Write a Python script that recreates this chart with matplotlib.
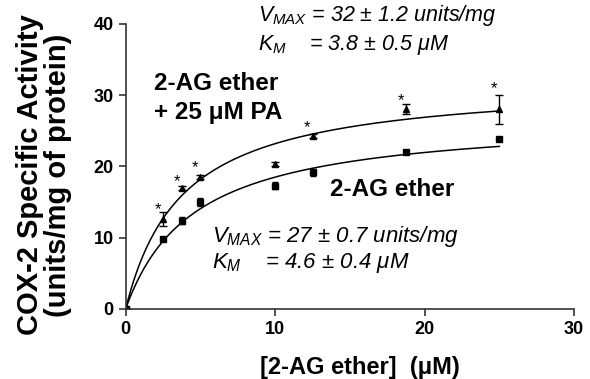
import matplotlib
matplotlib.use("Agg")
import matplotlib.pyplot as plt
import numpy as np

plt.rcParams['font.family'] = ['Liberation Sans', 'DejaVu Sans']
plt.rcParams['mathtext.fontset'] = 'custom'
plt.rcParams['mathtext.it'] = 'Liberation Sans:italic'
plt.rcParams['mathtext.rm'] = 'Liberation Sans:italic'

conc = [0, 2.5, 3.75, 5, 10, 12.5, 18.75, 25]
pa_vals = [0, 12.6, 17.0, 18.5, 20.3, 24.3, 28.0, 28.0]
pa_err = [0, 1.0, 0.3, 0.3, 0.3, 0.3, 0.7, 2.0]
ether_vals = [0, 9.8, 12.4, 15.0, 17.3, 19.2, 22.0, 23.8]
ether_err = [0, 0.3, 0.5, 0.5, 0.5, 0.5, 0.3, 0.3]
star_x = [2.5, 3.75, 5, 12.5, 18.75, 25]
star_y = [15.0, 18.8, 20.8, 26.4, 30.2, 31.9]

vmax_pa, km_pa = 32, 3.8
vmax_e, km_e = 27, 4.6

fig = plt.figure(figsize=(5.9, 3.79), dpi=100)
ax = fig.add_axes([0.213, 0.185, 0.760, 0.752])

s = np.linspace(0, 25, 300)
ax.plot(s, vmax_pa * s / (km_pa + s), color='black', lw=1.1)
ax.plot(s, vmax_e * s / (km_e + s), color='black', lw=1.1)

ax.errorbar(conc, pa_vals, yerr=pa_err, fmt='^', color='black', ms=5,
            capsize=3, elinewidth=1, capthick=1)
ax.errorbar(conc, ether_vals, yerr=ether_err, fmt='s', color='black', ms=5,
            capsize=2, elinewidth=1, capthick=1)
ax.plot([0], [0], 'o', color='black', ms=5)

for xs, ys in zip(star_x, star_y):
    ax.text(xs - 0.35, ys - 1.0, '*', fontsize=12, ha='center', va='center')

ax.set_xlim(0, 30)
ax.set_ylim(0, 40)
ax.set_xticks([0, 10, 20, 30])
ax.set_yticks([0, 10, 20, 30, 40])
for sp in ['top', 'right']:
    ax.spines[sp].set_visible(False)
for sp in ['left', 'bottom']:
    ax.spines[sp].set_linewidth(1.2)
    ax.spines[sp].set_color('#333333')
ax.tick_params(labelsize=13, width=1.2, length=5, color='#333333')
for lab in ax.get_xticklabels() + ax.get_yticklabels():
    lab.set_fontweight('bold')

ax.set_xlabel('[2-AG ether]  (\u03bcM)', fontsize=17, fontweight='bold')
ax.xaxis.set_label_coords(0.523, -0.165)
ax.set_ylabel('COX-2 Specific Activity\n(units/mg of protein)', fontsize=21,
              fontweight='bold', linespacing=1.0)
ax.yaxis.set_label_coords(-0.12, 0.47)

ax.text(1.9, 29.6, '2-AG ether\n+ 25 \u03bcM PA', fontsize=17.5, fontweight='bold',
        ha='left', va='center', linespacing=1.3)
ax.text(13.7, 16.8, '2-AG ether', fontsize=17.5, fontweight='bold',
        ha='left', va='center')

ax.text(8.85, 41.2, r'$V_{MAX}$ = 32 ± 1.2 units/mg', fontsize=15.5,
        style='italic', ha='left', va='center')
ax.text(8.85, 37.0, r'$K_{M}$    = 3.8 ± 0.5 ' + '\u03bcM',
        fontsize=15.5, style='italic', ha='left', va='center')
ax.text(5.8, 10.1, r'$V_{MAX}$ = 27 ± 0.7 units/mg', fontsize=16,
        style='italic', ha='left', va='center')
ax.text(5.8, 6.4, r'$K_{M}$    = 4.6 ± 0.4 ' + '\u03bcM',
        fontsize=16, style='italic', ha='left', va='center')

fig.savefig('out.png', dpi=100)
